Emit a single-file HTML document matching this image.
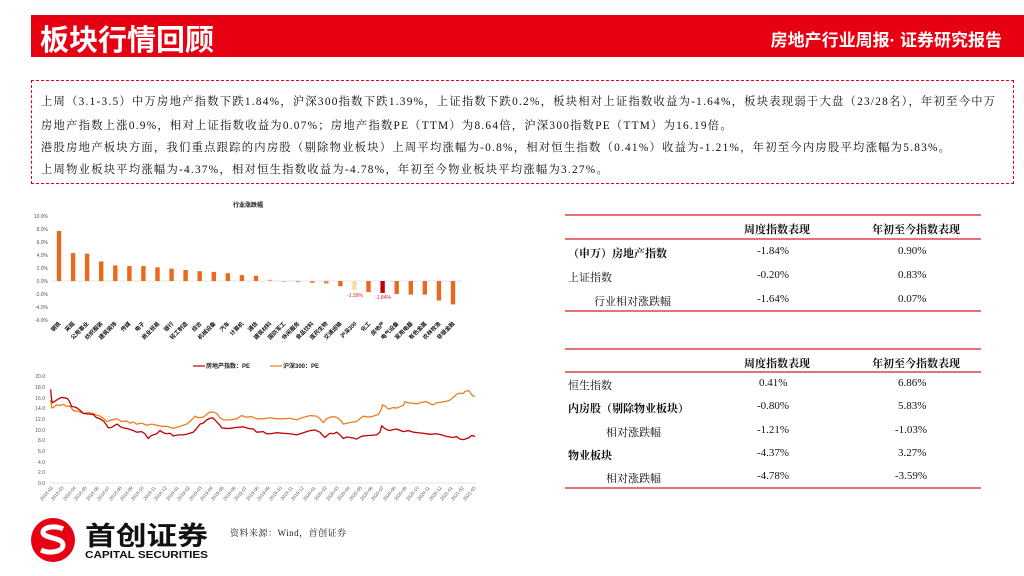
<!DOCTYPE html>
<html><head><meta charset="utf-8">
<style>
body{margin:0;width:1024px;height:576px;background:#fff;position:relative;overflow:hidden;font-family:"Liberation Serif","Noto Serif CJK SC",serif;}
.hdr{position:absolute;left:31px;top:15px;width:993px;height:42px;background:#E60012;}
.hdr .t{position:absolute;left:9px;top:2px;color:#fff;font:bold 29px "Liberation Sans","Noto Sans CJK SC",sans-serif;letter-spacing:0px;}
.hdr .r{position:absolute;right:22px;top:11px;color:#fff;font:bold 17px "Liberation Sans","Noto Sans CJK SC",sans-serif;}
.box{position:absolute;left:31px;top:80px;width:983px;height:104px;border:1px dashed #E60012;box-sizing:border-box;}
.box p{margin:0;position:absolute;left:9px;font-size:11.3px;color:#111;white-space:nowrap;letter-spacing:1.25px;}
.tb{position:absolute;left:565px;width:416px;font-size:11px;color:#111;}
.ln{position:absolute;left:565px;width:416px;height:2px;background:#E8707A;}
.c{position:absolute;white-space:nowrap;}
.src{position:absolute;left:230px;top:526px;font-size:9px;color:#222;letter-spacing:0.5px;}
</style></head><body>
<div class="hdr"><div class="t">板块行情回顾</div><div class="r">房地产行业周报· 证券研究报告</div></div>
<div class="box">
<p style="top:12px">上周（3.1-3.5）中万房地产指数下跌1.84%，沪深300指数下跌1.39%，上证指数下跌0.2%，板块相对上证指数收益为-1.64%，板块表现弱于大盘（23/28名），年初至今中万</p>
<p style="top:36px">房地产指数上涨0.9%，相对上证指数收益为0.07%；房地产指数PE（TTM）为8.64倍，沪深300指数PE（TTM）为16.19倍。</p>
<p style="top:58px">港股房地产板块方面，我们重点跟踪的内房股（剔除物业板块）上周平均涨幅为-0.8%，相对恒生指数（0.41%）收益为-1.21%，年初至今内房股平均涨幅为5.83%。</p>
<p style="top:80px">上周物业板块平均涨幅为-4.37%，相对恒生指数收益为-4.78%，年初至今物业板块平均涨幅为3.27%。</p>
</div>

<svg width="1024" height="576" style="position:absolute;left:0;top:0" font-family="Liberation Sans,Noto Sans CJK SC,sans-serif">
<text x="248" y="207" font-size="6" font-weight="bold" text-anchor="middle" fill="#111">行业涨跌幅</text>
<g font-size="5" fill="#555" text-anchor="end">
<text x="48" y="218">10.0%</text><text x="48" y="231">8.0%</text><text x="48" y="244">6.0%</text><text x="48" y="257">4.0%</text><text x="48" y="270">2.0%</text><text x="48" y="283">0.0%</text><text x="48" y="296">-2.0%</text><text x="48" y="309">-4.0%</text><text x="48" y="322">-6.0%</text>
</g>
<line x1="52" y1="281" x2="462" y2="281" stroke="#ddd" stroke-width="0.8"/>
<g transform="translate(0,281) scale(1,-6.5)" fill="#EA6A1A">
<rect x="56.8" y="0" width="4.4" height="7.7"/>
<rect x="70.9" y="0" width="4.4" height="4.3"/>
<rect x="84.9" y="0" width="4.4" height="4.2"/>
<rect x="99" y="0" width="4.4" height="3.0"/>
<rect x="113.1" y="0" width="4.4" height="2.4"/>
<rect x="127.2" y="0" width="4.4" height="2.3"/>
<rect x="141.2" y="0" width="4.4" height="2.3"/>
<rect x="155.3" y="0" width="4.4" height="2.1"/>
<rect x="169.4" y="0" width="4.4" height="1.9"/>
<rect x="183.4" y="0" width="4.4" height="1.7"/>
<rect x="197.5" y="0" width="4.4" height="1.5"/>
<rect x="211.6" y="0" width="4.4" height="1.4"/>
<rect x="225.6" y="0" width="4.4" height="1.2"/>
<rect x="239.7" y="0" width="4.4" height="0.9"/>
<rect x="253.8" y="0" width="4.4" height="0.8"/>
<rect x="267.8" y="0" width="4.4" height="0.2" fill="#F4A46E"/>
<rect x="281.9" y="-0.15" width="4.4" height="0.15" fill="#F4B88E"/>
<rect x="296" y="-0.2" width="4.4" height="0.2" fill="#F0A070"/>
<rect x="310.1" y="-0.3" width="4.4" height="0.3" fill="#EE8C4A"/>
<rect x="324.1" y="-0.4" width="4.4" height="0.4" fill="#EE8C4A"/>
<rect x="338.2" y="-0.8" width="4.4" height="0.8"/>
<rect x="352.3" y="-1.39" width="4.4" height="1.39" fill="#F8DCA8"/>
<rect x="366.3" y="-1.7" width="4.4" height="1.7"/>
<rect x="380.4" y="-1.84" width="4.4" height="1.84" fill="#C00000"/>
<rect x="394.5" y="-2.0" width="4.4" height="2.0"/>
<rect x="408.6" y="-2.1" width="4.4" height="2.1"/>
<rect x="422.6" y="-2.1" width="4.4" height="2.1"/>
<rect x="436.7" y="-3.0" width="4.4" height="3.0"/>
<rect x="450.8" y="-3.6" width="4.4" height="3.6"/>
</g>
<text x="355" y="297" font-size="5" fill="#E02030" text-anchor="middle">-1.39%</text>
<text x="383" y="299" font-size="5" fill="#E02030" text-anchor="middle">-1.84%</text>
<g font-size="5.6" font-weight="bold" fill="#111" text-anchor="end">
<text transform="translate(61,324) rotate(-45)">钢铁</text>
<text transform="translate(75,324) rotate(-45)">采掘</text>
<text transform="translate(89,324) rotate(-45)">公用事业</text>
<text transform="translate(103,324) rotate(-45)">纺织服装</text>
<text transform="translate(117,324) rotate(-45)">建筑装饰</text>
<text transform="translate(131,324) rotate(-45)">传媒</text>
<text transform="translate(145,324) rotate(-45)">电子</text>
<text transform="translate(160,324) rotate(-45)">商业贸易</text>
<text transform="translate(174,324) rotate(-45)">银行</text>
<text transform="translate(188,324) rotate(-45)">轻工制造</text>
<text transform="translate(202,324) rotate(-45)">综合</text>
<text transform="translate(216,324) rotate(-45)">机械设备</text>
<text transform="translate(230,324) rotate(-45)">汽车</text>
<text transform="translate(244,324) rotate(-45)">计算机</text>
<text transform="translate(258,324) rotate(-45)">通信</text>
<text transform="translate(272,324) rotate(-45)">建筑材料</text>
<text transform="translate(286,324) rotate(-45)">国防军工</text>
<text transform="translate(300,324) rotate(-45)">休闲服务</text>
<text transform="translate(314,324) rotate(-45)">食品饮料</text>
<text transform="translate(328,324) rotate(-45)">医药生物</text>
<text transform="translate(342,324) rotate(-45)">交通运输</text>
<text transform="translate(357,324) rotate(-45)">沪深300</text>
<text transform="translate(371,324) rotate(-45)">化工</text>
<text transform="translate(385,324) rotate(-45)">房地产</text>
<text transform="translate(399,324) rotate(-45)">电气设备</text>
<text transform="translate(413,324) rotate(-45)">家用电器</text>
<text transform="translate(427,324) rotate(-45)">有色金属</text>
<text transform="translate(441,324) rotate(-45)">农林牧渔</text>
<text transform="translate(455,324) rotate(-45)">非银金融</text>
</g>

<line x1="193" y1="366" x2="205" y2="366" stroke="#C00000" stroke-width="1.2"/>
<text x="206" y="368" font-size="6" font-weight="bold" fill="#222">房地产指数：PE</text>
<line x1="270" y1="366" x2="282" y2="366" stroke="#EE7D22" stroke-width="1.2"/>
<text x="283" y="368" font-size="6" font-weight="bold" fill="#222">沪深300：PE</text>
<g font-size="5" fill="#555" text-anchor="end">
<text x="45" y="378">20.0</text><text x="45" y="389">18.0</text><text x="45" y="400">16.0</text><text x="45" y="410">14.0</text><text x="45" y="421">12.0</text><text x="45" y="432">10.0</text><text x="45" y="442">8.0</text><text x="45" y="453">6.0</text><text x="45" y="464">4.0</text><text x="45" y="474">2.0</text><text x="45" y="485">0.0</text>
</g>
<line x1="50" y1="483" x2="476" y2="483" stroke="#ddd" stroke-width="0.8"/>
<g transform="translate(30,483) scale(0.3333,-5.35)" fill="none" stroke-linejoin="round">
<polyline vector-effect="non-scaling-stroke" stroke="#EE7D22" stroke-width="1.3" points="62,15.5 66,14 72,14.2 80,14.6 90,14.5 100,14.7 110,14.3 120,14.4 130,13.5 145,13.4 160,13 175,13.2 190,13 200,12.7 210,12.5 222,12 230,11.5 245,11.8 260,12 275,11.5 290,11.6 300,11.2 310,11.4 320,11 335,11.2 350,10.8 365,11 380,10.8 395,10.6 410,10.6 430,10.2 445,10.5 460,10.8 470,11 485,11.8 495,12.5 505,12.2 520,12.3 530,12.8 540,13.3 552,13.2 560,13 570,12.2 580,11.8 600,11.8 620,12 635,12.6 650,12.3 665,12.4 680,12 700,12 720,12.2 740,12 760,12 780,12.1 800,11.8 820,12.3 840,12.6 860,12.5 870,12 880,11.3 890,12 900,12.3 915,12.4 925,12.1 935,11.5 940,11 960,11.3 980,11.5 990,12 1000,12.5 1015,12.3 1030,12.5 1045,12.8 1052,13.5 1058,14.6 1065,14.4 1075,13.8 1090,14.1 1100,14 1115,14.4 1120,14.5 1125,15.2 1135,15 1150,14.9 1160,14.8 1175,15.1 1190,15.2 1200,14.8 1210,14.6 1220,15 1235,15.1 1250,15.3 1260,15.5 1270,16 1280,16.6 1290,16.8 1300,16.7 1305,17.1 1315,17.3 1320,17 1325,16.5 1330,16.3 1335,16.2"/>
<polyline vector-effect="non-scaling-stroke" stroke="#C00000" stroke-width="1.3" points="62,17.5 64,16 67,15 75,15.3 85,15.7 95,16 105,15.9 112,15.8 118,15.3 125,14.3 135,14.2 142,14 150,13.6 160,13 175,12.9 190,12.8 200,12.2 210,12 222,11.5 230,10.8 235,10.3 245,10.4 255,10.8 262,11 272,10.5 280,10.3 290,10.2 300,10 310,9.8 320,9.5 335,9.6 345,9.2 350,8.7 355,8.3 362,8.8 370,9 380,9.2 390,9.8 400,9.4 410,9.2 420,9.3 430,8.8 445,9 460,9 475,9.2 490,9.5 500,10.2 510,11 520,11.2 530,11.8 540,12.1 548,12.2 555,11.8 562,11.3 570,10.8 575,10.3 590,10.2 600,10.2 620,10.4 640,10.5 655,10.2 670,10.1 680,9.5 700,9.6 710,9.2 720,9.2 740,9.4 760,9.3 780,9.2 800,9 820,9.4 840,9.8 855,9.9 870,9.5 880,8.8 885,8.5 892,8.9 900,9.3 910,9.2 920,9.5 930,9 940,8.3 950,8.6 960,8.5 970,8.4 980,8.2 990,8.6 1000,8.8 1020,8.9 1040,9 1050,9.5 1055,10.7 1062,10.3 1070,10 1080,9.8 1090,10 1100,10.1 1120,9.6 1135,9.8 1150,9.5 1165,9.4 1180,9.3 1200,9.1 1220,9.2 1235,9 1250,8.7 1260,8.6 1270,8.5 1280,8.7 1290,8.2 1300,8.1 1310,8.3 1318,8.5 1325,8.9 1330,8.8 1335,8.7"/>
</g>
<g font-size="4.6" fill="#555" text-anchor="end">
<text transform="translate(53,488) rotate(-50)">2018-02</text><text transform="translate(64,488) rotate(-50)">2018-03</text><text transform="translate(76,488) rotate(-50)">2018-04</text><text transform="translate(87,488) rotate(-50)">2018-05</text><text transform="translate(99,488) rotate(-50)">2018-06</text><text transform="translate(110,488) rotate(-50)">2018-07</text><text transform="translate(122,488) rotate(-50)">2018-08</text><text transform="translate(133,488) rotate(-50)">2018-09</text><text transform="translate(144,488) rotate(-50)">2018-10</text><text transform="translate(156,488) rotate(-50)">2018-11</text><text transform="translate(167,488) rotate(-50)">2018-12</text><text transform="translate(179,488) rotate(-50)">2019-01</text><text transform="translate(190,488) rotate(-50)">2019-02</text><text transform="translate(202,488) rotate(-50)">2019-03</text><text transform="translate(213,488) rotate(-50)">2019-04</text><text transform="translate(224,488) rotate(-50)">2019-05</text><text transform="translate(236,488) rotate(-50)">2019-06</text><text transform="translate(247,488) rotate(-50)">2019-07</text><text transform="translate(259,488) rotate(-50)">2019-08</text><text transform="translate(270,488) rotate(-50)">2019-09</text><text transform="translate(282,488) rotate(-50)">2019-10</text><text transform="translate(293,488) rotate(-50)">2019-11</text><text transform="translate(304,488) rotate(-50)">2019-12</text><text transform="translate(316,488) rotate(-50)">2020-01</text><text transform="translate(327,488) rotate(-50)">2020-02</text><text transform="translate(339,488) rotate(-50)">2020-03</text><text transform="translate(350,488) rotate(-50)">2020-04</text><text transform="translate(362,488) rotate(-50)">2020-05</text><text transform="translate(373,488) rotate(-50)">2020-06</text><text transform="translate(384,488) rotate(-50)">2020-07</text><text transform="translate(396,488) rotate(-50)">2020-08</text><text transform="translate(407,488) rotate(-50)">2020-09</text><text transform="translate(419,488) rotate(-50)">2020-10</text><text transform="translate(430,488) rotate(-50)">2020-11</text><text transform="translate(442,488) rotate(-50)">2020-12</text><text transform="translate(453,488) rotate(-50)">2021-01</text><text transform="translate(464,488) rotate(-50)">2021-02</text><text transform="translate(476,488) rotate(-50)">2021-03</text>
</g>

<circle cx="53" cy="540" r="22" fill="#E60012"/>
<path d="M63,529 C55,525 42,527 43,533 C45,539 63,537 63,545 C63,552 49,554 41,550" stroke="#fff" stroke-width="5" fill="none"/>
<text x="85" y="545" font-size="26" font-weight="bold" fill="#111" font-family="Noto Sans CJK SC,sans-serif" textLength="123" lengthAdjust="spacingAndGlyphs">首创证券</text>
<text x="85" y="558" font-size="10.5" font-weight="bold" fill="#111" font-family="Liberation Sans,sans-serif" textLength="123" lengthAdjust="spacingAndGlyphs">CAPITAL SECURITIES</text>
</svg>

<div class="src">资料来源：Wind，首创证券</div>

<div class="ln" style="top:214px"></div>
<div class="ln" style="top:238px;height:1.5px"></div>
<div class="ln" style="top:310px"></div>
<div class="ln" style="top:348px"></div>
<div class="ln" style="top:371px;height:1.5px"></div>
<div class="ln" style="top:487px"></div>
<div class="tb" style="top:0">
<div class="c" style="left:179px;top:221px;font-weight:bold">周度指数表现</div>
<div class="c" style="left:307px;top:221px;font-weight:bold">年初至今指数表现</div>
<div class="c" style="left:3px;top:245px;font-weight:bold">（申万）房地产指数</div>
<div class="c" style="left:192px;top:245px">-1.84%</div><div class="c" style="left:333px;top:245px">0.90%</div>
<div class="c" style="left:3px;top:269px">上证指数</div>
<div class="c" style="left:192px;top:269px">-0.20%</div><div class="c" style="left:333px;top:269px">0.83%</div>
<div class="c" style="left:29px;top:293px">行业相对涨跌幅</div>
<div class="c" style="left:192px;top:293px">-1.64%</div><div class="c" style="left:333px;top:293px">0.07%</div>

<div class="c" style="left:179px;top:355px;font-weight:bold">周度指数表现</div>
<div class="c" style="left:307px;top:355px;font-weight:bold">年初至今指数表现</div>
<div class="c" style="left:3px;top:377px">恒生指数</div>
<div class="c" style="left:194px;top:377px">0.41%</div><div class="c" style="left:333px;top:377px">6.86%</div>
<div class="c" style="left:3px;top:400px;font-weight:bold">内房股（剔除物业板块）</div>
<div class="c" style="left:192px;top:400px">-0.80%</div><div class="c" style="left:333px;top:400px">5.83%</div>
<div class="c" style="left:41px;top:424px">相对涨跌幅</div>
<div class="c" style="left:192px;top:424px">-1.21%</div><div class="c" style="left:330px;top:424px">-1.03%</div>
<div class="c" style="left:3px;top:447px;font-weight:bold">物业板块</div>
<div class="c" style="left:192px;top:447px">-4.37%</div><div class="c" style="left:333px;top:447px">3.27%</div>
<div class="c" style="left:41px;top:470px">相对涨跌幅</div>
<div class="c" style="left:192px;top:470px">-4.78%</div><div class="c" style="left:330px;top:470px">-3.59%</div>
</div>
</body></html>
